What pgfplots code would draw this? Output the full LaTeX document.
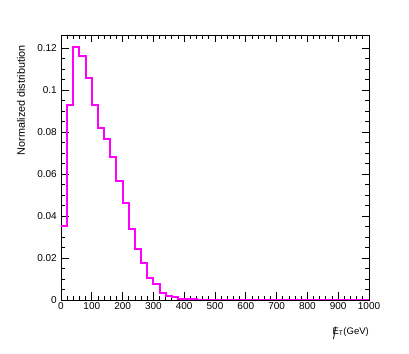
\documentclass[border=0pt]{standalone}
\usepackage{fontspec}
\setmainfont{Liberation Sans}
\usepackage{pgfplots}
\pgfplotsset{compat=1.18}

\definecolor{rootmagenta}{RGB}{255,0,255}

\begin{document}
\begin{tikzpicture}
\path[use as bounding box] (-61bp,-54bp) rectangle (348bp,300bp);
\begin{axis}[at={(0,0)}, anchor=south west, scale only axis,
  width=308bp, height=265bp,
  xmin=0, xmax=1000, ymin=0, ymax=0.1262,
  xtick distance=100, minor x tick num=4,
  ytick={0,0.02,0.04,0.06,0.08,0.1,0.12}, minor y tick num=3,
  tick align=inside, tick pos=both,
  major tick length=7.5bp, minor tick length=3.75bp,
  axis line style={line width=0.8bp}, every tick/.style={black, line width=0.8bp},
  scaled y ticks=false,
  /pgf/number format/1000 sep={},
  yticklabel style={/pgf/number format/fixed, /pgf/number format/precision=2, inner sep=0pt, anchor=east, xshift=-4bp},
  xticklabel style={inner sep=0pt, anchor=north, yshift=-2.5bp},
  /pgf/number format/assume math mode=true,
  tick label style={font=\fontsize{10bp}{12bp}\selectfont},
  ylabel={Normalized distribution},
  ylabel style={at={([xshift=-36bp,yshift=-10bp]rel axis cs:0,1)}, anchor=base east, inner sep=0pt, font=\fontsize{10.8bp}{13bp}\selectfont},
  xlabel={{\rlap{\raisebox{-5.5bp}{\hspace{0.5bp}\scalebox{1.2}[1.8]{/}}}E}\textsubscript{T}(GeV)},
  xlabel style={at={([yshift=-34bp]rel axis cs:1,0)}, anchor=base east, inner sep=0pt, font=\fontsize{9.5bp}{11bp}\selectfont},
]
\addplot[const plot mark left, rootmagenta, line width=2bp] coordinates {
(0,0.0352)(20,0.0927)(40,0.1203)(60,0.1164)(80,0.1059)(100,0.0929)
(120,0.0821)(140,0.0768)(160,0.0683)(180,0.0568)(200,0.0463)(220,0.0340)
(240,0.0241)(260,0.0175)(280,0.0105)(300,0.0075)(320,0.0032)(340,0.0019)
(360,0.0013)(380,0.0006)(400,0.0004)(420,0.0003)(440,0.0002)(460,0.0002)
(480,0.0001)(500,0.0001)(520,0.0001)(540,0.0001)(560,0.0001)(580,0.0001)
(600,0.0001)(620,0.0001)(640,0.0001)(660,0.0001)(680,0.0001)(700,0.0001)
(720,0.0001)(740,0.0001)(760,0.0001)(780,0.0001)(800,0.0001)(820,0.0001)
(840,0.0001)(860,0.0001)(880,0.0001)(900,0.0001)(920,0.0001)(940,0.0001)
(960,0.0001)(980,0.0001)(1000,0)};
\end{axis}
\end{tikzpicture}
\end{document}
